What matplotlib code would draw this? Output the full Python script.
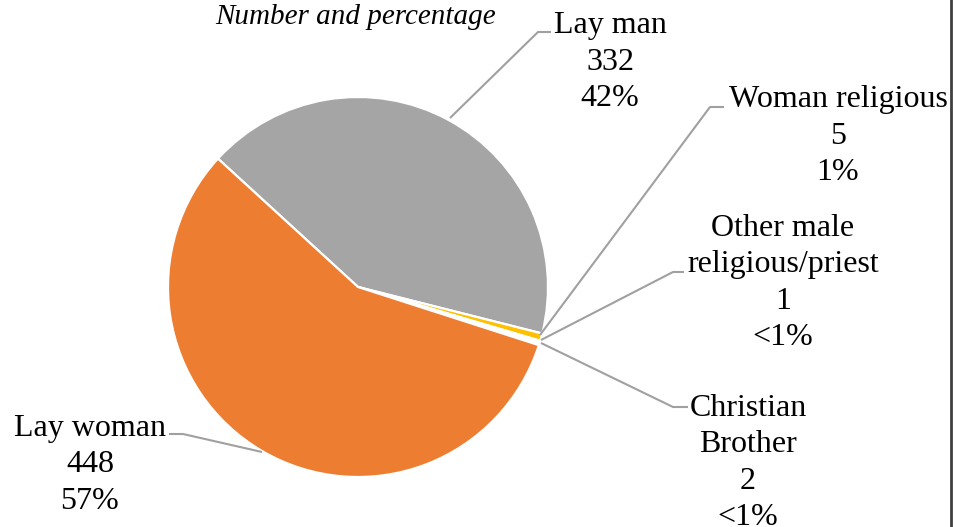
import matplotlib
matplotlib.use("Agg")
import matplotlib.pyplot as plt
from matplotlib.lines import Line2D

# data
categories = ["Lay man", "Woman religious", "Other male\nreligious/priest",
              "Christian\nBrother", "Lay woman"]
counts = [332, 5, 1, 2, 448]
pct_labels = ["42%", "1%", "<1%", "<1%", "57%"]
colors = ["#A5A5A5", "#FFC000", "#FFFFFF", "#FFFFFF", "#ED7D31"]

W, H = 954, 527
plt.rcParams['font.family'] = ['Liberation Serif', 'DejaVu Serif']

fig = plt.figure(figsize=(W / 100, H / 100), dpi=100)
ax = fig.add_axes([0, 0, 1, 1])

def py(y):
    # pixel row (from top) -> data y
    return H - y

ax.pie(counts, colors=colors, startangle=137.5, counterclock=False,
       center=(358, py(287)), radius=190, frame=True,
       wedgeprops=dict(edgecolor='white', linewidth=1.6))
ax.set_xlim(0, W)
ax.set_ylim(0, H)
ax.set_aspect('equal')
ax.axis('off')

# label centre (x, y in pixels from top) and leader paths
label_pos = [(610, 62), (838, 136), (783, 283), (748, 463), (90, 465)]
leaders = [
    [(450, 118), (538, 32), (551, 32)],
    [(540, 335), (710, 107), (724, 107)],
    [(541, 340), (673, 272), (684, 272)],
    [(541, 343), (673, 407), (688, 407)],
    [(262, 452), (183, 434), (169, 434)],
]

for cat, n, p, (x, y), path in zip(categories, counts, pct_labels, label_pos, leaders):
    ax.text(x, py(y), f"{cat}\n{n}\n{p}", ha='center', va='center',
            fontsize=23, linespacing=1.34, color='black')
    xs = [q[0] for q in path]
    ys = [py(q[1]) for q in path]
    ax.plot(xs, ys, color='#A0A0A0', lw=1.5, solid_capstyle='butt')

ax.text(356, py(17), "Number and percentage", ha='center', va='center',
        fontsize=21, style='italic')

fig.add_artist(Line2D([951.5 / W, 951.5 / W], [0, 1], color='#404040', lw=2,
                      transform=fig.transFigure))

fig.savefig("out.png", dpi=100)
